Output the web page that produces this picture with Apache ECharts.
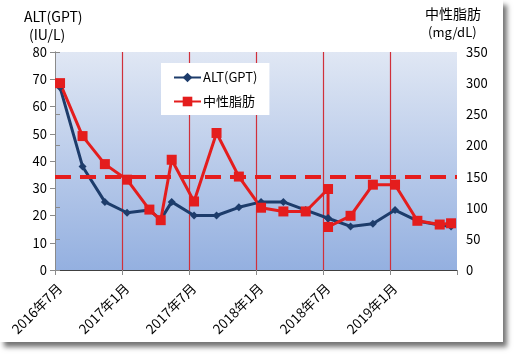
<!DOCTYPE html>
<html><head><meta charset="utf-8">
<script src="https://cdn.jsdelivr.net/npm/echarts@6/dist/echarts.min.js"></script>
<style>
html,body{margin:0;padding:0;background:#fff;}
#card{position:absolute;left:0;top:0;width:503px;height:342px;background:#fff;box-shadow:4px 5px 5px rgba(0,0,0,0.55);}
#chart{width:503px;height:342px;}
</style></head><body>
<div id="card"><div id="chart"></div></div>
<script>
// ---- data ----
const dates = ['2016-07-15','2016-09-15','2016-11-15','2017-01-15','2017-03-15','2017-04-15','2017-05-15',
  '2017-07-15','2017-09-15','2017-11-15','2018-01-15','2018-03-15','2018-05-15','2018-07-15','2018-07-15',
  '2018-09-15','2018-11-15','2019-01-15','2019-03-15','2019-05-15','2019-06-15'];
const altValues = [67,38,25,21,22,18.5,25,20,20,23,25,25,22,19,19,16,17,22,18,16.5,16];
const tgValues  = [300,215,170,145,97,80,177,110,220,150,100,94,94,130,69,87,137,137,79,73,75];
const tgLimit = 150;
const xTickLabels = ['2016年7月','2017年1月','2017年7月','2018年1月','2018年7月','2019年1月',''];
const seriesNames = ['ALT(GPT)','中性脂肪'];

// months since 2016-07-01
function toMonths(s){
  const [y,m,d] = s.split('-').map(Number);
  const dim = new Date(y, m, 0).getDate();
  return (y-2016)*12 + (m-7) + (d-1)/dim;
}
const altData = dates.map((d,i)=>[toMonths(d), altValues[i]]);
const tgData  = dates.map((d,i)=>[toMonths(d), tgValues[i]]);

const FONT = "'Noto Sans CJK JP', 'Noto Sans', sans-serif";
const NAVY = '#1d3c6b';
const RED = '#e41d1d';
const AXIS = '#8a8a8a';

const chart = echarts.init(document.getElementById('chart'));
chart.setOption({
  animation:false,
  textStyle:{fontFamily:FONT},
  grid:{left:55, right:46, top:52, bottom:72, show:true, borderWidth:0,
    backgroundColor:new echarts.graphic.LinearGradient(0,0,0,1,[{offset:0,color:'#e0e7f4'},{offset:1,color:'#94b0e0'}])},
  legend:{
    orient:'vertical', left:161, top:63, backgroundColor:'#fff',
    padding:[8,12,7,12], itemGap:11, itemWidth:27, itemHeight:12,
    textStyle:{fontFamily:FONT, fontSize:13, color:'#000', padding:[0,0,0,-3]},
    data:seriesNames
  },
  xAxis:[{
    type:'value', min:0, max:36, interval:6,
    axisLine:{lineStyle:{color:AXIS}},
    axisTick:{show:true, length:5, lineStyle:{color:AXIS}},
    axisLabel:{rotate:45, fontSize:13.5, color:'#000', margin:11, verticalAlign:'top',
      formatter:v=>xTickLabels[Math.round(v/6)]||''},
    splitLine:{show:true, showMinLine:false, showMaxLine:false, lineStyle:{color:'#d0303a', width:1.2}}
  },{
    type:'value', min:0, max:36, position:'top',
    axisLine:{show:true, lineStyle:{color:'#404040'}},
    axisTick:{show:false}, axisLabel:{show:false}, splitLine:{show:false}
  }],
  yAxis:[{
    type:'value', min:0, max:80, interval:10,
    axisLine:{show:true, lineStyle:{color:AXIS}},
    axisTick:{show:true, length:5, lineStyle:{color:AXIS}},
    axisLabel:{fontSize:13, color:'#000', margin:8},
    splitLine:{show:false}
  },{
    type:'value', min:0, max:350, interval:50, position:'right',
    axisLine:{show:true, lineStyle:{color:AXIS}},
    axisTick:{show:true, length:5, lineStyle:{color:AXIS}},
    axisLabel:{fontSize:13, color:'#000', margin:9},
    splitLine:{show:false}
  }],
  graphic:[
    {type:'text', left:24, top:10, style:{text:'ALT(GPT)', font:"14px "+FONT, fill:'#000'}},
    {type:'text', left:29, top:28, style:{text:'(IU/L)', font:"14px "+FONT, fill:'#000'}},
    {type:'text', left:425, top:7, style:{text:'中性脂肪', font:"14px "+FONT, fill:'#000'}},
    {type:'text', left:428, top:26, style:{text:'(mg/dL)', font:"13px "+FONT, fill:'#000'}}
  ],
  series:[{
    name:seriesNames[0], type:'line', xAxisIndex:0, yAxisIndex:0, data:altData,
    symbol:'diamond', symbolSize:8,
    lineStyle:{color:NAVY, width:3}, itemStyle:{color:NAVY}
  },{
    name:seriesNames[1], type:'line', xAxisIndex:0, yAxisIndex:1, data:tgData,
    symbol:'rect', symbolSize:10,
    lineStyle:{color:RED, width:3}, itemStyle:{color:RED},
    markLine:{silent:true, symbol:'none', label:{show:false},
      lineStyle:{color:RED, width:4, type:[16,9]},
      data:[{yAxis:tgLimit}]}
  }]
});
</script>
</body></html>
